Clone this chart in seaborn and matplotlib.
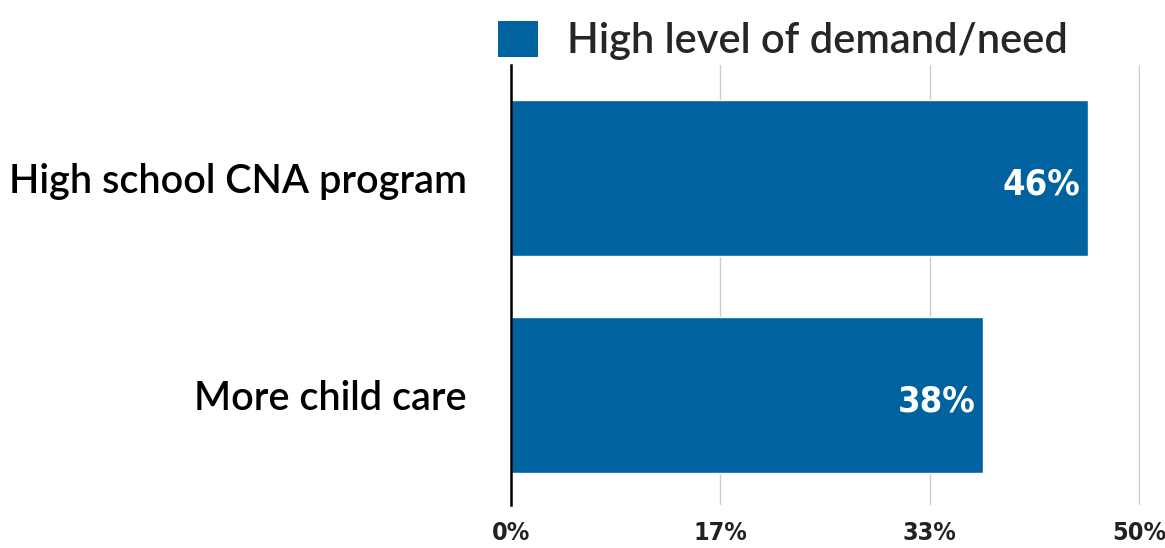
import matplotlib
matplotlib.use('Agg')
import matplotlib.pyplot as plt
import seaborn as sns
import pandas as pd
from matplotlib.patches import Patch

# data
programs = ['High school CNA program', 'More child care']
demand = [45.9, 37.6]
tick_vals = [0, 50 / 3, 100 / 3, 50]
tick_labels = ['0%', '17%', '33%', '50%']
series_name = 'High level of demand/need'

df = pd.DataFrame({'program': programs, 'pct': demand})

sns.set_style('white')
plt.rcParams['font.family'] = ['Lato', 'DejaVu Sans']

blue = '#0063a0'
narrow = ['DejaVu Sans']
fig, ax = plt.subplots(figsize=(11.65, 5.48), dpi=100)
fig.subplots_adjust(left=0.4386, right=0.9785, top=0.881, bottom=0.078)

sns.barplot(data=df, x='pct', y='program', color=blue, width=0.72,
            saturation=1, ax=ax, zorder=3)

ax.set_xlim(0, 50.05)
ax.set_ylim(1.51, -0.52)
ax.set_xticks(tick_vals)
ax.set_xticklabels(tick_labels, fontsize=18, fontweight='bold', color='#222222',
                   family=narrow, fontstretch='condensed')
ax.tick_params(axis='x', length=0, pad=11)
ax.tick_params(axis='y', length=0, pad=32, labelsize=28.5)
for t in ax.get_yticklabels():
    t.set_fontweight('semibold')
    t.set_color('black')
ax.set_xlabel('')
ax.set_ylabel('')
ax.grid(axis='x', color='#cccccc', linewidth=1, zorder=0)
for s in ['top', 'right', 'bottom']:
    ax.spines[s].set_visible(False)
ax.spines['left'].set_color('black')
ax.spines['left'].set_linewidth(1.8)
ax.spines['left'].set_zorder(4)

for i, v in enumerate(demand):
    ax.text(v - 0.6, i + 0.03, f'{v:.0f}%', ha='right', va='center', color='white',
            fontsize=26, fontweight='bold', family=narrow,
            fontstretch='condensed', zorder=5)

handles = [Patch(facecolor=blue, edgecolor='none')]
fig.legend(handles, [series_name], loc='upper left', bbox_to_anchor=(0.41, 1.0),
           frameon=False, prop={'size': 30, 'weight': 'semibold'},
           handlelength=0.95, handleheight=0.95,
           handletextpad=0.7, borderaxespad=0.1)

fig.savefig('out.png', dpi=100)
